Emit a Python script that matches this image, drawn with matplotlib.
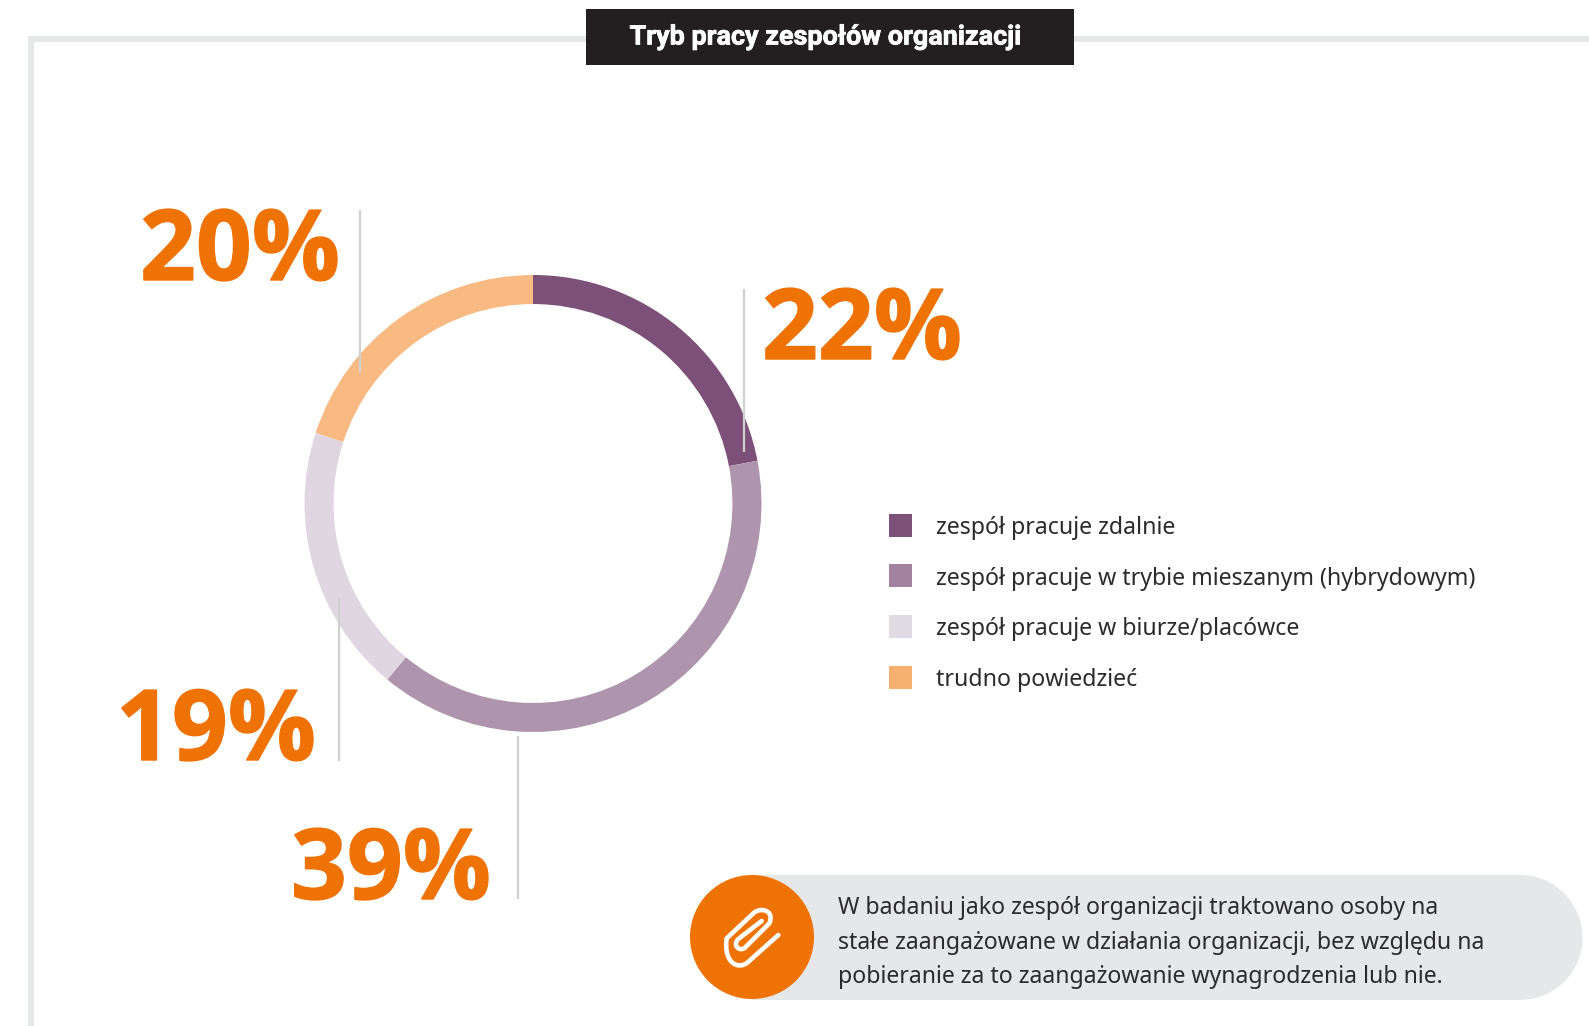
import matplotlib
matplotlib.use("Agg")
import matplotlib.pyplot as plt
import matplotlib.patheffects as pe
from matplotlib.patches import Rectangle, Circle, PathPatch
from matplotlib.path import Path

W, H = 1589, 1026
DPI = 100

title = "Tryb pracy zespołów organizacji"
categories = [
    "zespół pracuje zdalnie",
    "zespół pracuje w trybie mieszanym (hybrydowym)",
    "zespół pracuje w biurze/placówce",
    "trudno powiedzieć",
]
shares = [22, 39, 19, 20]
ring_colors = ["#7c5078", "#ae94ac", "#e0d6e2", "#f8ba82"]
legend_colors = ["#7c5078", "#a3829f", "#e0dae3", "#f6b06f"]
note_lines = [
    "W badaniu jako zespół organizacji traktowano osoby na",
    "stałe zaangażowane w działania organizacji, bez względu na",
    "pobieranie za to zaangażowanie wynagrodzenia lub nie.",
]

ORANGE = "#ef7204"
GREY = "#e6e7e9"
TEXT = "#2b2a2c"
plt.rcParams["font.family"] = ["Noto Sans", "DejaVu Sans"]

fig = plt.figure(figsize=(W / DPI, H / DPI), dpi=DPI, facecolor="white")

# full-figure layer in pixel coordinates, y going down
bg = fig.add_axes([0, 0, 1, 1])
bg.set_xlim(0, W)
bg.set_ylim(H, 0)
bg.axis("off")

# open frame and title box
bg.add_patch(Rectangle((28, 36), W - 28, 5.7, fc=GREY, ec="none"))
bg.add_patch(Rectangle((28, 36), 5.7, H - 36, fc=GREY, ec="none"))
bg.add_patch(Rectangle((586, 9), 488, 56, fc="#231f20", ec="none"))
bg.text(825, 44.5, title, color="white", fontsize=19.4, fontweight="bold",
        ha="center", va="baseline", family="Roboto",
        path_effects=[pe.withStroke(linewidth=0.5, foreground="white")])

# donut
cx, cy, r = 533, 503.5, 228.5
pie_ax = fig.add_axes([(cx - r) / W, 1 - (cy + r) / H, 2 * r / W, 2 * r / H])
pie_ax.pie(shares, colors=ring_colors, startangle=90, counterclock=False, radius=1,
           wedgeprops=dict(width=29 / 228, linewidth=0))
pie_ax.set_xlim(-1, 1)
pie_ax.set_ylim(-1, 1)

# overlay for everything drawn on top of the ring
top = fig.add_axes([0, 0, 1, 1])
top.set_xlim(0, W)
top.set_ylim(H, 0)
top.axis("off")
top.patch.set_alpha(0)

# leader lines and big percentages
leaders = [(744, 289, 452), (518, 736, 899), (339, 598, 761), (360, 210, 373)]
label_pos = [(762, 359), (291, 899), (116, 760), (140, 280)]
for (lx, y0, y1), (tx, ty), v in zip(leaders, label_pos, shares):
    top.plot([lx, lx], [y0, y1], color="#d0d0d0", lw=1.6, solid_capstyle="butt")
    top.text(tx, ty, f"{v}%", color=ORANGE, fontsize=70.5, fontweight=700,
             family="Open Sans", ha="left", va="baseline",
             path_effects=[pe.withStroke(linewidth=1.0, foreground=ORANGE)])

# legend
swatch_y = [525.5, 575.5, 626.5, 677.5]
legend_base = [534, 585, 635, 686]
for name, c, y, by in zip(categories, legend_colors, swatch_y, legend_base):
    top.add_patch(Rectangle((889, y - 11.5), 23, 23, fc=c, ec="none"))
    top.text(936, by, name, color=TEXT, fontsize=16.65, ha="left", va="baseline")

# note pill with badge
top.add_patch(Rectangle((752, 875), 768, 125, fc=GREY, ec="none"))
top.add_patch(Circle((1520, 937.5), 62.5, fc=GREY, ec="none"))
top.add_patch(Circle((752, 937), 62, fc=ORANGE, ec="none"))
for line, by in zip(note_lines, [914, 949, 983]):
    top.text(838, by, line, color=TEXT, fontsize=16.6, ha="left", va="baseline")

# paperclip icon, outlined as one stroke from the free end inwards
clip_pts = [
    (205, 120), (112, 203),
    (85, 225), (40, 205), (50, 130),
    (130, 55),
    (150, 35), (195, 45), (178, 85),
    (105, 158),
    (88, 172), (66, 150), (85, 132),
    (155, 78),
]
clip_codes = [
    Path.MOVETO, Path.LINETO,
    Path.CURVE4, Path.CURVE4, Path.CURVE4,
    Path.LINETO,
    Path.CURVE4, Path.CURVE4, Path.CURVE4,
    Path.LINETO,
    Path.CURVE4, Path.CURVE4, Path.CURVE4,
    Path.LINETO,
]
clip = Path([(710 + x / 3, 895 + y / 3) for x, y in clip_pts], clip_codes)
top.add_patch(PathPatch(clip, fc="none", ec="white", lw=3.3, capstyle="round", joinstyle="round"))

fig.savefig("out.png", dpi=DPI)
